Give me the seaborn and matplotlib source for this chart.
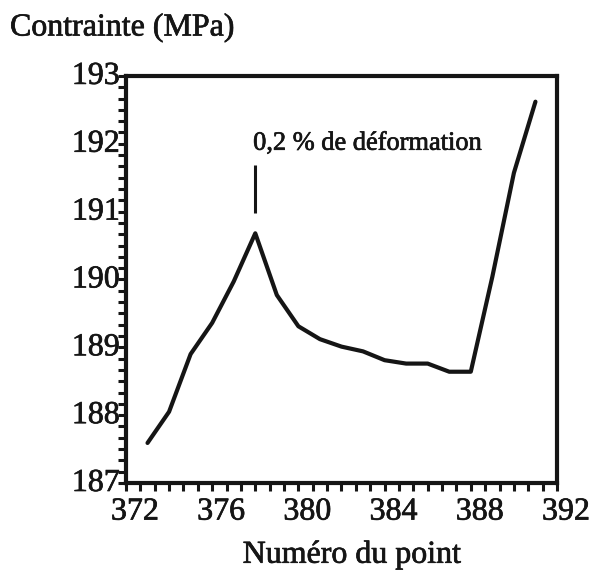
import matplotlib
matplotlib.use('Agg')
import matplotlib.pyplot as plt
import matplotlib.transforms as mtransforms
import matplotlib.patheffects as pe
from matplotlib.ticker import AutoMinorLocator
import seaborn as sns
import pandas as pd

# data
point_num = [373, 374, 375, 376, 377, 378, 379, 380, 381, 382,
             383, 384, 385, 386, 387, 388, 389, 390, 391]
stress = [187.59, 188.05, 188.90, 189.36, 189.97, 190.68, 189.77, 189.31, 189.12, 189.01,
          188.94, 188.81, 188.76, 188.76, 188.64, 188.64, 190.04, 191.57, 192.62]
mark_x = [378, 378]
mark_y = [190.98, 191.69]
mark_text = '0,2 % de déformation'
x_ticks = [372, 376, 380, 384, 388, 392]
y_ticks = [187, 188, 189, 190, 191, 192, 193]

sns.set_style('ticks')
plt.rcParams['font.family'] = ['Liberation Serif', 'DejaVu Serif']
plt.rcParams['font.size'] = 23

ink = '#151515'
# scanned print looks heavier than plain Times
heavy = [pe.withStroke(linewidth=0.5, foreground=ink)]

df = pd.DataFrame({'point': point_num, 'stress': stress})

fig = plt.figure(figsize=(5.97, 5.75), dpi=100)
ax = fig.add_axes([0.211, 0.160, 0.722, 0.708])

sns.lineplot(data=df, x='point', y='stress', ax=ax, color=ink, lw=3.0)
ax.plot(mark_x, mark_y, color=ink, lw=2.2, solid_capstyle='butt')
ax.text(377.9, 192.0, mark_text, ha='left', va='center', fontsize=19,
        color=ink, path_effects=heavy)

ax.set_xlim(x_ticks[0], x_ticks[-1])
ax.set_ylim(y_ticks[0], y_ticks[-1])
ax.set_xticks(x_ticks)
ax.set_yticks(y_ticks)
ax.xaxis.set_minor_locator(AutoMinorLocator(6))
ax.yaxis.set_minor_locator(AutoMinorLocator(6))
ax.set_xlabel('')
ax.set_ylabel('')

for s in ax.spines.values():
    s.set_linewidth(3.0)
    s.set_color(ink)

ax.tick_params(which='both', direction='out', length=5.5, width=2.2, color=ink, labelcolor=ink)
ax.tick_params(axis='y', which='both', pad=-1)
ax.tick_params(axis='x', which='both', pad=5)

# tick labels in the scan sit a bit to the right of their ticks
shift = mtransforms.ScaledTranslation(0.09, 0, fig.dpi_scale_trans)
for lab in ax.get_xticklabels():
    lab.set_transform(lab.get_transform() + shift)
    lab.set_path_effects(heavy)
shift_y = mtransforms.ScaledTranslation(0, 0.03, fig.dpi_scale_trans)
for lab in ax.get_yticklabels():
    lab.set_transform(lab.get_transform() + shift_y)
    lab.set_path_effects(heavy)

fig.text(10 / 597, 1 - 28 / 575, 'Contrainte (MPa)', ha='left', va='center',
         fontsize=23, color=ink, path_effects=heavy)
fig.text(352 / 597, 1 - 555 / 575, 'Numéro du point', ha='center', va='center',
         fontsize=23, color=ink, path_effects=heavy)

fig.savefig('out.png', dpi=100, facecolor='white')
